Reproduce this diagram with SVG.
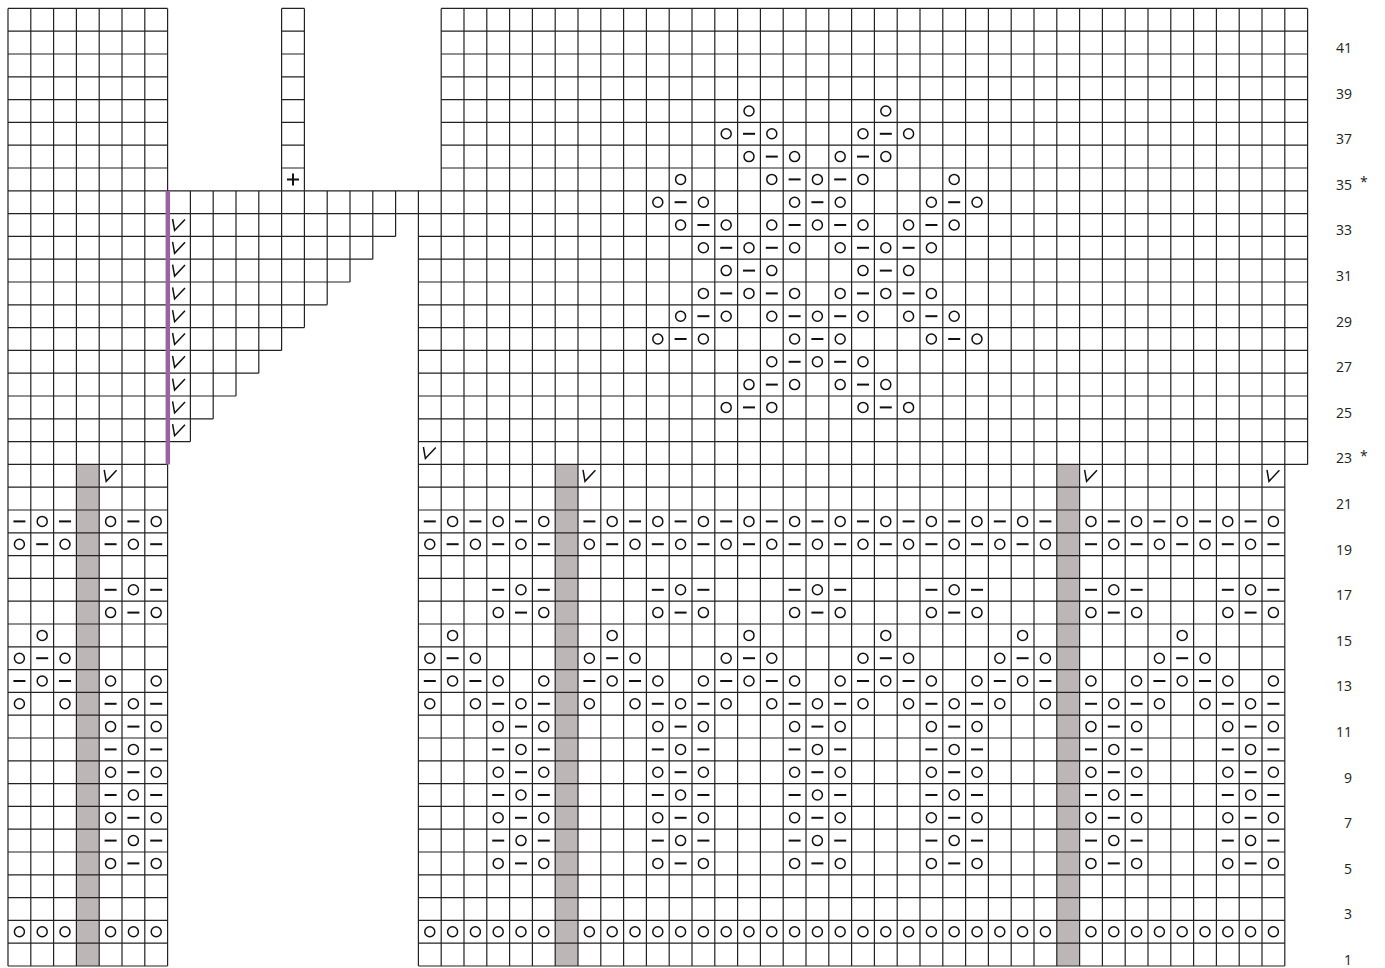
<svg xmlns="http://www.w3.org/2000/svg" xmlns:xlink="http://www.w3.org/1999/xlink" width="1385" height="968" viewBox="0 0 1385 968">
<style>
.grid{fill:none;stroke:#222;stroke-width:1.2}
.s{fill:none;stroke:#111;stroke-width:1.5}
.dash{fill:none;stroke:#111;stroke-width:2}
.gray{fill:#bdb6b6}
.lbl{font-family:"Open Sans","Noto Sans","Liberation Sans",sans-serif;font-size:14px;fill:#222;text-anchor:end}
.ast{font-family:"Open Sans","Noto Sans","Liberation Sans",sans-serif;font-size:14px;fill:#222}
</style>
<defs>
<circle id="o" r="5" class="s"/>
<path id="d" d="M-6 0H6" class="dash"/>
<g id="t1"><use href="#o" x="-22.8"/><use href="#d"/><use href="#o" x="22.8"/></g>
<g id="t2"><use href="#d" x="-22.8"/><use href="#o"/><use href="#d" x="22.8"/></g>
<g id="f5"><use href="#t1" x="-22.8"/><use href="#d" x="22.8"/><use href="#o" x="45.6"/></g>
<path id="v" d="M-6.4 -6L-4.4 5.5L6 -5.5" class="s"/>
</defs>
<rect width="1385" height="968" fill="#fff"/>
<g id="shading">
<rect class="gray" x="76.4" y="464.4" width="22.8" height="501.6"/>
<rect class="gray" x="555.2" y="464.4" width="22.8" height="501.6"/>
<rect class="gray" x="1056.8" y="464.4" width="22.8" height="501.6"/>
</g>
<g id="gridlines">
<path class="grid" d="M8 8.4H167.6M8 31.2H167.6M8 54H167.6M8 76.8H167.6M8 99.6H167.6M8 122.4H167.6M8 145.2H167.6M8 168H167.6M8 190.8H167.6M8 213.6H167.6M8 236.4H167.6M8 259.2H167.6M8 282H167.6M8 304.8H167.6M8 327.6H167.6M8 350.4H167.6M8 373.2H167.6M8 396H167.6M8 418.8H167.6M8 441.6H167.6M8 464.4H167.6M8 487.2H167.6M8 510H167.6M8 532.8H167.6M8 555.6H167.6M8 578.4H167.6M8 601.2H167.6M8 624H167.6M8 646.8H167.6M8 669.6H167.6M8 692.4H167.6M8 715.2H167.6M8 738H167.6M8 760.8H167.6M8 783.6H167.6M8 806.4H167.6M8 829.2H167.6M8 852H167.6M8 874.8H167.6M8 897.6H167.6M8 920.4H167.6M8 943.2H167.6M8 966H167.6"/>
<path class="grid" d="M8 8.4V966M30.8 8.4V966M53.6 8.4V966M76.4 8.4V966M99.2 8.4V966M122 8.4V966M144.8 8.4V966M167.6 8.4V966"/>
<path class="grid" d="M281.6 8.4H304.4M281.6 31.2H304.4M281.6 54H304.4M281.6 76.8H304.4M281.6 99.6H304.4M281.6 122.4H304.4M281.6 145.2H304.4M281.6 168H304.4M281.6 8.4V190.8M304.4 8.4V190.8"/>
<path class="grid" d="M167.6 190.8H1307.6M167.6 213.6H1307.6M167.6 236.4H395.6M167.6 259.2H372.8M167.6 282H350M167.6 304.8H327.2M167.6 327.6H304.4M167.6 350.4H281.6M167.6 373.2H258.8M167.6 396H236M167.6 418.8H213.2M167.6 441.6H190.4M190.4 190.8V441.6M213.2 190.8V418.8M236 190.8V396M258.8 190.8V373.2M281.6 190.8V350.4M304.4 190.8V327.6M327.2 190.8V304.8M350 190.8V282M372.8 190.8V259.2M395.6 190.8V236.4"/>
<path class="grid" d="M441.2 8.4H1307.6M441.2 31.2H1307.6M441.2 54H1307.6M441.2 76.8H1307.6M441.2 99.6H1307.6M441.2 122.4H1307.6M441.2 145.2H1307.6M441.2 168H1307.6M418.4 236.4H1307.6M418.4 259.2H1307.6M418.4 282H1307.6M418.4 304.8H1307.6M418.4 327.6H1307.6M418.4 350.4H1307.6M418.4 373.2H1307.6M418.4 396H1307.6M418.4 418.8H1307.6M418.4 441.6H1307.6M418.4 464.4H1307.6M418.4 487.2H1284.8M418.4 510H1284.8M418.4 532.8H1284.8M418.4 555.6H1284.8M418.4 578.4H1284.8M418.4 601.2H1284.8M418.4 624H1284.8M418.4 646.8H1284.8M418.4 669.6H1284.8M418.4 692.4H1284.8M418.4 715.2H1284.8M418.4 738H1284.8M418.4 760.8H1284.8M418.4 783.6H1284.8M418.4 806.4H1284.8M418.4 829.2H1284.8M418.4 852H1284.8M418.4 874.8H1284.8M418.4 897.6H1284.8M418.4 920.4H1284.8M418.4 943.2H1284.8M418.4 966H1284.8"/>
<path class="grid" d="M418.4 190.8V966M441.2 8.4V966M464 8.4V966M486.8 8.4V966M509.6 8.4V966M532.4 8.4V966M555.2 8.4V966M578 8.4V966M600.8 8.4V966M623.6 8.4V966M646.4 8.4V966M669.2 8.4V966M692 8.4V966M714.8 8.4V966M737.6 8.4V966M760.4 8.4V966M783.2 8.4V966M806 8.4V966M828.8 8.4V966M851.6 8.4V966M874.4 8.4V966M897.2 8.4V966M920 8.4V966M942.8 8.4V966M965.6 8.4V966M988.4 8.4V966M1011.2 8.4V966M1034 8.4V966M1056.8 8.4V966M1079.6 8.4V966M1102.4 8.4V966M1125.2 8.4V966M1148 8.4V966M1170.8 8.4V966M1193.6 8.4V966M1216.4 8.4V966M1239.2 8.4V966M1262 8.4V966M1284.8 8.4V966M1307.6 8.4V464.4"/>
</g>
<rect id="marker-line" x="165.6" y="190.8" width="4.4" height="273.6" fill="#9c5fa8"/>
<g id="symbols">
<g id="r2" transform="translate(0 931.8)"><use href="#o" x="19.4"/><use href="#o" x="42.2"/><use href="#o" x="65"/><use href="#o" x="110.6"/><use href="#o" x="133.4"/><use href="#o" x="156.2"/><use href="#o" x="429.8"/><use href="#o" x="452.6"/><use href="#o" x="475.4"/><use href="#o" x="498.2"/><use href="#o" x="521"/><use href="#o" x="543.8"/><use href="#o" x="589.4"/><use href="#o" x="612.2"/><use href="#o" x="635"/><use href="#o" x="657.8"/><use href="#o" x="680.6"/><use href="#o" x="703.4"/><use href="#o" x="726.2"/><use href="#o" x="749"/><use href="#o" x="771.8"/><use href="#o" x="794.6"/><use href="#o" x="817.4"/><use href="#o" x="840.2"/><use href="#o" x="863"/><use href="#o" x="885.8"/><use href="#o" x="908.6"/><use href="#o" x="931.4"/><use href="#o" x="954.2"/><use href="#o" x="977"/><use href="#o" x="999.8"/><use href="#o" x="1022.6"/><use href="#o" x="1045.4"/><use href="#o" x="1091"/><use href="#o" x="1113.8"/><use href="#o" x="1136.6"/><use href="#o" x="1159.4"/><use href="#o" x="1182.2"/><use href="#o" x="1205"/><use href="#o" x="1227.8"/><use href="#o" x="1250.6"/><use href="#o" x="1273.4"/></g>
<g id="r5" transform="translate(0 863.4)"><use href="#t1" x="133.4"/><use href="#t1" x="521"/><use href="#t1" x="680.6"/><use href="#t1" x="817.4"/><use href="#t1" x="954.2"/><use href="#t1" x="1113.8"/><use href="#t1" x="1250.6"/></g>
<g id="r6" transform="translate(0 840.6)"><use href="#t2" x="133.4"/><use href="#t2" x="521"/><use href="#t2" x="680.6"/><use href="#t2" x="817.4"/><use href="#t2" x="954.2"/><use href="#t2" x="1113.8"/><use href="#t2" x="1250.6"/></g>
<g id="r7" transform="translate(0 817.8)"><use href="#t1" x="133.4"/><use href="#t1" x="521"/><use href="#t1" x="680.6"/><use href="#t1" x="817.4"/><use href="#t1" x="954.2"/><use href="#t1" x="1113.8"/><use href="#t1" x="1250.6"/></g>
<g id="r8" transform="translate(0 795)"><use href="#t2" x="133.4"/><use href="#t2" x="521"/><use href="#t2" x="680.6"/><use href="#t2" x="817.4"/><use href="#t2" x="954.2"/><use href="#t2" x="1113.8"/><use href="#t2" x="1250.6"/></g>
<g id="r9" transform="translate(0 772.2)"><use href="#t1" x="133.4"/><use href="#t1" x="521"/><use href="#t1" x="680.6"/><use href="#t1" x="817.4"/><use href="#t1" x="954.2"/><use href="#t1" x="1113.8"/><use href="#t1" x="1250.6"/></g>
<g id="r10" transform="translate(0 749.4)"><use href="#t2" x="133.4"/><use href="#t2" x="521"/><use href="#t2" x="680.6"/><use href="#t2" x="817.4"/><use href="#t2" x="954.2"/><use href="#t2" x="1113.8"/><use href="#t2" x="1250.6"/></g>
<g id="r11" transform="translate(0 726.6)"><use href="#t1" x="133.4"/><use href="#t1" x="521"/><use href="#t1" x="680.6"/><use href="#t1" x="817.4"/><use href="#t1" x="954.2"/><use href="#t1" x="1113.8"/><use href="#t1" x="1250.6"/></g>
<g id="r12" transform="translate(0 703.8)"><use href="#o" x="19.4"/><use href="#o" x="65"/><use href="#t2" x="133.4"/><use href="#o" x="429.8"/><use href="#t1" x="498.2"/><use href="#d" x="543.8"/><use href="#o" x="589.4"/><use href="#f5" x="680.6"/><use href="#f5" x="817.4"/><use href="#f5" x="954.2"/><use href="#o" x="1045.4"/><use href="#t2" x="1113.8"/><use href="#o" x="1159.4"/><use href="#t1" x="1227.8"/><use href="#d" x="1273.4"/></g>
<g id="r13" transform="translate(0 681)"><use href="#t2" x="42.2"/><use href="#o" x="110.6"/><use href="#o" x="156.2"/><use href="#t2" x="452.6"/><use href="#o" x="498.2"/><use href="#o" x="543.8"/><use href="#t2" x="612.2"/><use href="#o" x="657.8"/><use href="#f5" x="749"/><use href="#f5" x="885.8"/><use href="#t1" x="999.8"/><use href="#d" x="1045.4"/><use href="#o" x="1091"/><use href="#f5" x="1182.2"/><use href="#o" x="1273.4"/></g>
<g id="r14" transform="translate(0 658.2)"><use href="#t1" x="42.2"/><use href="#t1" x="452.6"/><use href="#t1" x="612.2"/><use href="#t1" x="749"/><use href="#t1" x="885.8"/><use href="#t1" x="1022.6"/><use href="#t1" x="1182.2"/></g>
<g id="r15" transform="translate(0 635.4)"><use href="#o" x="42.2"/><use href="#o" x="452.6"/><use href="#o" x="612.2"/><use href="#o" x="749"/><use href="#o" x="885.8"/><use href="#o" x="1022.6"/><use href="#o" x="1182.2"/></g>
<g id="r16" transform="translate(0 612.6)"><use href="#t1" x="133.4"/><use href="#t1" x="521"/><use href="#t1" x="680.6"/><use href="#t1" x="817.4"/><use href="#t1" x="954.2"/><use href="#t1" x="1113.8"/><use href="#t1" x="1250.6"/></g>
<g id="r17" transform="translate(0 589.8)"><use href="#t2" x="133.4"/><use href="#t2" x="521"/><use href="#t2" x="680.6"/><use href="#t2" x="817.4"/><use href="#t2" x="954.2"/><use href="#t2" x="1113.8"/><use href="#t2" x="1250.6"/></g>
<g id="r19" transform="translate(0 544.2)"><use href="#t1" x="42.2"/><use href="#t2" x="133.4"/><use href="#f5" x="475.4"/><use href="#d" x="543.8"/><use href="#f5" x="635"/><use href="#d" x="703.4"/><use href="#f5" x="771.8"/><use href="#d" x="840.2"/><use href="#f5" x="908.6"/><use href="#d" x="977"/><use href="#t1" x="1022.6"/><use href="#t2" x="1113.8"/><use href="#o" x="1159.4"/><use href="#t2" x="1205"/><use href="#o" x="1250.6"/><use href="#d" x="1273.4"/></g>
<g id="r20" transform="translate(0 521.4)"><use href="#t2" x="42.2"/><use href="#t1" x="133.4"/><use href="#t2" x="452.6"/><use href="#o" x="498.2"/><use href="#d" x="521"/><use href="#o" x="543.8"/><use href="#t2" x="612.2"/><use href="#o" x="657.8"/><use href="#t2" x="703.4"/><use href="#o" x="749"/><use href="#t2" x="794.6"/><use href="#o" x="840.2"/><use href="#t2" x="885.8"/><use href="#o" x="931.4"/><use href="#t2" x="977"/><use href="#o" x="1022.6"/><use href="#d" x="1045.4"/><use href="#f5" x="1136.6"/><use href="#d" x="1205"/><use href="#t1" x="1250.6"/></g>
<g id="r22" transform="translate(0 475.8)"><use href="#v" x="110.6"/><use href="#v" x="589.4"/><use href="#v" x="1091"/><use href="#v" x="1273.4"/></g>
<g id="r23" transform="translate(0 453)"><use href="#v" x="429.8"/></g>
<g id="slip-column"><use href="#v" x="179" y="430.2"/><use href="#v" x="179" y="407.4"/><use href="#v" x="179" y="384.6"/><use href="#v" x="179" y="361.8"/><use href="#v" x="179" y="339"/><use href="#v" x="179" y="316.2"/><use href="#v" x="179" y="293.4"/><use href="#v" x="179" y="270.6"/><use href="#v" x="179" y="247.8"/><use href="#v" x="179" y="225"/></g>
<path id="plus" d="M287 179.4H299M293 173.4V185.4" class="dash"/>
<g id="r25" transform="translate(0 407.4)"><use href="#t1" x="749"/><use href="#t1" x="885.8"/></g>
<g id="r26" transform="translate(0 384.6)"><use href="#t1" x="771.8"/><use href="#t1" x="863"/></g>
<g id="r27" transform="translate(0 361.8)"><use href="#f5" x="817.4"/></g>
<g id="r28" transform="translate(0 339)"><use href="#t1" x="680.6"/><use href="#t1" x="817.4"/><use href="#t1" x="954.2"/></g>
<g id="r29" transform="translate(0 316.2)"><use href="#t1" x="703.4"/><use href="#f5" x="817.4"/><use href="#t1" x="931.4"/></g>
<g id="r30" transform="translate(0 293.4)"><use href="#f5" x="749"/><use href="#f5" x="885.8"/></g>
<g id="r31" transform="translate(0 270.6)"><use href="#t1" x="749"/><use href="#t1" x="885.8"/></g>
<g id="r32" transform="translate(0 247.8)"><use href="#f5" x="749"/><use href="#f5" x="885.8"/></g>
<g id="r33" transform="translate(0 225)"><use href="#t1" x="703.4"/><use href="#f5" x="817.4"/><use href="#t1" x="931.4"/></g>
<g id="r34" transform="translate(0 202.2)"><use href="#t1" x="680.6"/><use href="#t1" x="817.4"/><use href="#t1" x="954.2"/></g>
<g id="r35" transform="translate(0 179.4)"><use href="#o" x="680.6"/><use href="#f5" x="817.4"/><use href="#o" x="954.2"/></g>
<g id="r36" transform="translate(0 156.6)"><use href="#t1" x="771.8"/><use href="#t1" x="863"/></g>
<g id="r37" transform="translate(0 133.8)"><use href="#t1" x="749"/><use href="#t1" x="885.8"/></g>
<g id="r38" transform="translate(0 111)"><use href="#o" x="749"/><use href="#o" x="885.8"/></g>
</g>
<g id="row-labels">
<text class="lbl" x="1352" y="53">41</text>
<text class="lbl" x="1352" y="98.6">39</text>
<text class="lbl" x="1352" y="144.2">37</text>
<text class="lbl" x="1352" y="189.8">35</text>
<text class="ast" x="1360" y="187">*</text>
<text class="lbl" x="1352" y="235.4">33</text>
<text class="lbl" x="1352" y="281">31</text>
<text class="lbl" x="1352" y="326.6">29</text>
<text class="lbl" x="1352" y="372.2">27</text>
<text class="lbl" x="1352" y="417.8">25</text>
<text class="lbl" x="1352" y="463.4">23</text>
<text class="ast" x="1360" y="461">*</text>
<text class="lbl" x="1352" y="509">21</text>
<text class="lbl" x="1352" y="554.6">19</text>
<text class="lbl" x="1352" y="600.2">17</text>
<text class="lbl" x="1352" y="645.8">15</text>
<text class="lbl" x="1352" y="691.4">13</text>
<text class="lbl" x="1352" y="737">11</text>
<text class="lbl" x="1352" y="782.6">9</text>
<text class="lbl" x="1352" y="828.2">7</text>
<text class="lbl" x="1352" y="873.8">5</text>
<text class="lbl" x="1352" y="919.4">3</text>
<text class="lbl" x="1352" y="965">1</text>
</g>
</svg>
